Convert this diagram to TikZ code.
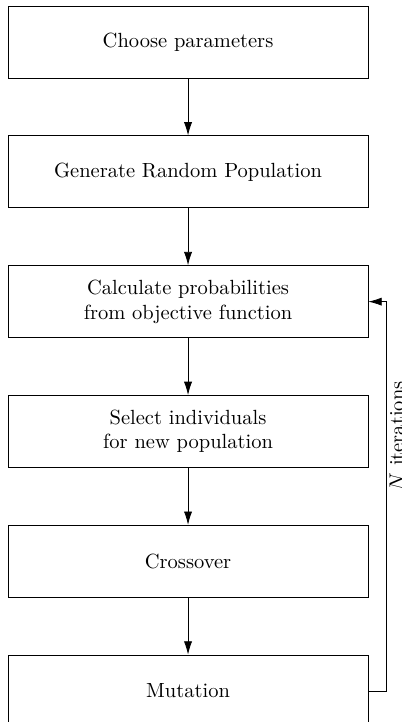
\documentclass[tikz,border=0pt]{standalone}
\usetikzlibrary{positioning,arrows.meta}
\begin{document}
\begin{tikzpicture}[>={Latex[length=6.5pt,width=4pt]}, node distance=27.8pt,
	box/.style={draw, minimum width=175.5pt, minimum height=35.1pt, align=center}]
			\useasboundingbox (-91.7pt,-331.6pt) rectangle (104.3pt,20.5pt);
			\node[box] (param) {Choose parameters};
			\node[box, below=of param] (pop) {Generate Random Population};
			\node[box, below=of pop] (prob) {Calculate probabilities\\from objective function};
			\node[box, below=of prob] (sel) {Select individuals\\for new population};
			\node[box, below=of sel] (cross) {Crossover};
			\node[box, below=of cross] (mut) {Mutation};
			\foreach \a/\b in {param/pop, pop/prob, prob/sel, sel/cross, cross/mut}{\draw[->] (\a) -- (\b);}
			% loop back after mutation
			\draw[->] (mut.east) -- ++(8.6pt,0) |- (prob.east)
				node[pos=.327, rotate=90, anchor=north, inner sep=1.5pt]{$N$ iterations};
		\end{tikzpicture}
\end{document}
